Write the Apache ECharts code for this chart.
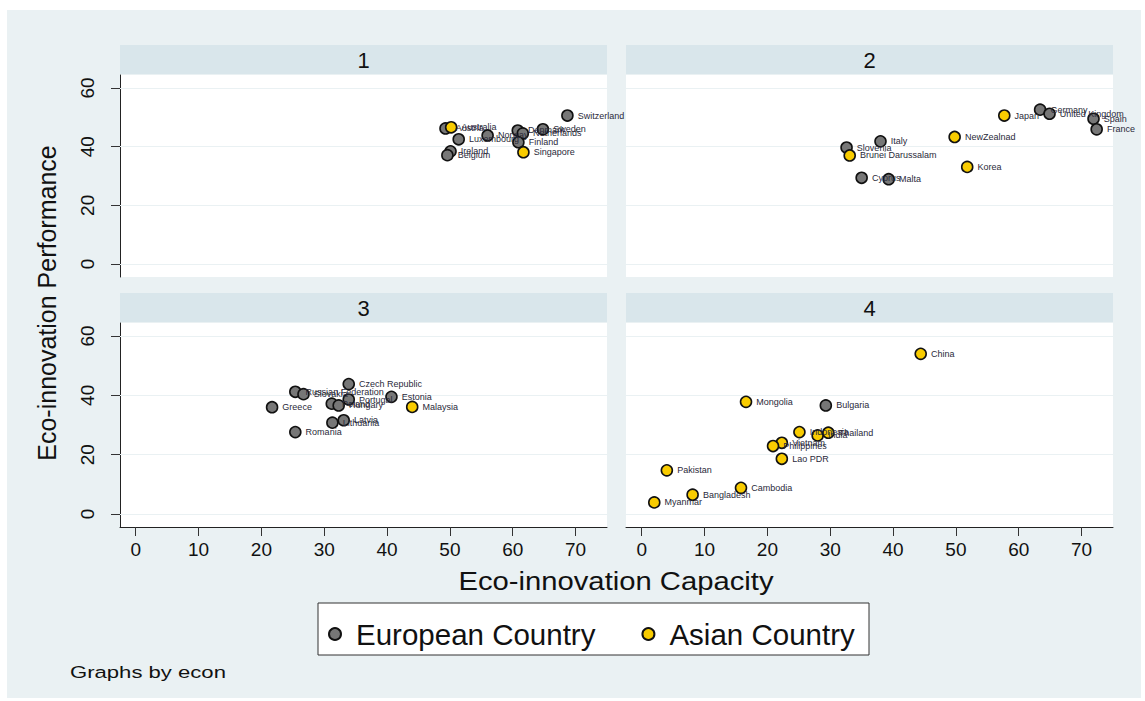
<!DOCTYPE html>
<html>
<head>
<meta charset="utf-8">
<script src="https://cdn.jsdelivr.net/npm/echarts@6/dist/echarts.min.js"></script>
<style>
html,body{margin:0;padding:0;background:#fff;}
#chart{width:1145px;height:701px;}
</style>
</head>
<body>
<div id="chart"></div>
<script>
// ---- data ----
const xTicks = [0, 10, 20, 30, 40, 50, 60, 70];
const yTicks = [0, 20, 40, 60];
const panelTitles = ['1', '2', '3', '4'];
const legendNames = ['European Country', 'Asian Country'];

// [capacity, performance, country]
const p1Europe = [
  [68.7, 50.6, 'Switzerland'], [49.3, 46.2, 'Austria'], [56.0, 43.8, 'Norway'],
  [60.8, 45.5, 'Denmark'], [64.8, 45.9, 'Sweden'], [61.6, 44.5, 'Netherlands'],
  [60.9, 41.5, 'Finland'], [51.4, 42.5, 'Luxembourg'], [50.1, 38.4, 'Ireland'],
  [49.6, 37.1, 'Belgium']
];
const p1Asia = [
  [50.2, 46.6, 'Australia'], [61.7, 38.1, 'Singapore']
];
const p2Europe = [
  [63.4, 52.6, 'Germany'], [64.9, 51.2, 'United Kingdom'], [71.9, 49.5, 'Spain'],
  [72.4, 45.9, 'France'], [38.0, 41.8, 'Italy'], [32.6, 39.7, 'Slovenia'],
  [35.0, 29.4, 'Cyprus'], [39.3, 28.9, 'Malta']
];
const p2Asia = [
  [57.7, 50.6, 'Japan'], [49.8, 43.3, 'NewZealnad'], [33.1, 37.0, 'Brunei Darussalam'],
  [51.8, 33.1, 'Korea']
];
const p3Europe = [
  [33.9, 43.8, 'Czech Republic'], [25.4, 41.2, 'Russian Federation'], [26.7, 40.4, 'Slovakia'],
  [21.7, 36.0, 'Greece'], [33.9, 38.6, 'Portugal'], [40.7, 39.5, 'Estonia'],
  [31.2, 37.2, 'Poland'], [32.3, 36.6, 'Hungary'], [33.1, 31.6, 'Latvia'],
  [31.3, 30.8, 'Lithuania'], [25.4, 27.6, 'Romania']
];
const p3Asia = [
  [44.0, 36.1, 'Malaysia']
];
const p4Europe = [
  [29.3, 36.6, 'Bulgaria']
];
const p4Asia = [
  [44.4, 54.0, 'China'], [16.6, 37.8, 'Mongolia'], [25.1, 27.6, 'Indonesia'],
  [28.0, 26.5, 'India'], [29.7, 27.4, 'Thailand'], [22.3, 24.0, 'Vietnam'],
  [20.9, 22.9, 'Philippines'], [22.3, 18.6, 'Lao PDR'], [4.0, 14.7, 'Pakistan'],
  [15.8, 8.8, 'Cambodia'], [8.1, 6.5, 'Bangladesh'], [2.0, 3.9, 'Myanmar']
];
const panelEurope = [p1Europe, p2Europe, p3Europe, p4Europe];
const panelAsia = [p1Asia, p2Asia, p3Asia, p4Asia];

// ---- style / layout ----
const FONT = "'Liberation Sans',Arial,sans-serif";
const BG = '#eaf1f3';
const HEADER = '#d9e6eb';
const GRAY = '#777777';
const GOLD = '#f9cc00';
const gridPos = [
  {left: 120, top: 75, width: 487, height: 202},
  {left: 626, top: 75, width: 487, height: 202},
  {left: 120, top: 323, width: 487, height: 204},
  {left: 626, top: 323, width: 487, height: 204}
];

const chart = echarts.init(document.getElementById('chart'), null, {renderer: 'svg'});

const grids = gridPos.map(g => Object.assign({backgroundColor: '#fff', show: true, borderWidth: 0}, g));

const xAxes = gridPos.map((g, i) => {
  const bottom = i >= 2;
  return {
    gridIndex: i, type: 'value', min: -2.5, max: 75,
    axisLine: {show: bottom, onZero: false, lineStyle: {color: '#222', width: 1}},
    axisTick: {show: bottom, length: 9, customValues: xTicks, lineStyle: {color: '#333'}},
    axisLabel: {show: bottom, customValues: xTicks, fontSize: 19, color: '#111', margin: 13, fontFamily: FONT},
    splitLine: {show: false}
  };
});
const yAxes = gridPos.map((g, i) => {
  const left = i % 2 === 0;
  return {
    gridIndex: i, type: 'value', min: -4.4, max: 64.4,
    axisLine: {show: left, onZero: false, lineStyle: {color: '#222', width: 1}},
    axisTick: {show: left, length: 9, customValues: yTicks, lineStyle: {color: '#333'}},
    axisLabel: {show: left, customValues: yTicks, rotate: 90, fontSize: 19, color: '#111', margin: 23, fontFamily: FONT},
    splitLine: {show: false}
  };
});

function mkSeries(data, name, color, i, withGrid) {
  const s = {
    type: 'scatter', name: name, xAxisIndex: i, yAxisIndex: i,
    data: data, symbol: 'circle', symbolSize: 11,
    itemStyle: {color: color, borderColor: '#111', borderWidth: 1.6, opacity: 1},
    label: {show: true, position: 'right', distance: 4, fontSize: 9, color: '#2a2a3a', fontFamily: FONT,
      formatter: p => p.value[2]},
    emphasis: {disabled: true},
    z: 3
  };
  if (withGrid) {
    s.markLine = {
      silent: true, symbol: 'none', label: {show: false}, z: 1,
      lineStyle: {color: BG, width: 1.2, type: 'solid'},
      data: yTicks.map(v => ({yAxis: v}))
    };
  }
  return s;
}
const series = [];
for (let i = 0; i < 4; i++) {
  series.push(mkSeries(panelEurope[i], legendNames[0], GRAY, i, true));
  series.push(mkSeries(panelAsia[i], legendNames[1], GOLD, i, false));
}

const graphics = [
  {type: 'rect', shape: {x: 7, y: 10, width: 1134, height: 688}, style: {fill: BG}, z: -10, silent: true},
  {type: 'rect', shape: {x: 318, y: 603, width: 551, height: 52}, style: {fill: '#fff', stroke: '#333', lineWidth: 1}, z: -5, silent: true},
  {type: 'text', x: 47, y: 303, rotation: Math.PI / 2,
    style: {text: 'Eco-innovation Performance', fontSize: 25, fontFamily: FONT, fill: '#111', align: 'center', verticalAlign: 'middle'}},
  {type: 'text', x: 616, y: 581, scaleX: 1.17,
    style: {text: 'Eco-innovation Capacity', fontSize: 25, fontFamily: FONT, fill: '#111', align: 'center', verticalAlign: 'middle'}},
  {type: 'text', x: 70, y: 672, scaleX: 1.3,
    style: {text: 'Graphs by econ', fontSize: 17, fontFamily: FONT, fill: '#111', align: 'left', verticalAlign: 'middle'}}
];
gridPos.forEach((g, i) => {
  graphics.push({type: 'rect', shape: {x: g.left, y: g.top - 30, width: g.width, height: 29}, style: {fill: HEADER}, z: -4, silent: true});
  graphics.push({type: 'text', x: g.left + g.width / 2, y: g.top - 15,
    style: {text: panelTitles[i], fontSize: 22, fontFamily: FONT, fill: '#111', align: 'center', verticalAlign: 'middle'}});
});

chart.setOption({
  backgroundColor: '#fff',
  animation: false,
  grid: grids,
  xAxis: xAxes,
  yAxis: yAxes,
  legend: {
    data: legendNames, left: 323, top: 614, icon: 'circle', itemWidth: 32, itemHeight: 12, itemGap: 46,
    textStyle: {fontSize: 29.5, color: '#111', fontFamily: FONT}, selectedMode: false
  },
  graphic: graphics,
  series: series
});
</script>
</body>
</html>
